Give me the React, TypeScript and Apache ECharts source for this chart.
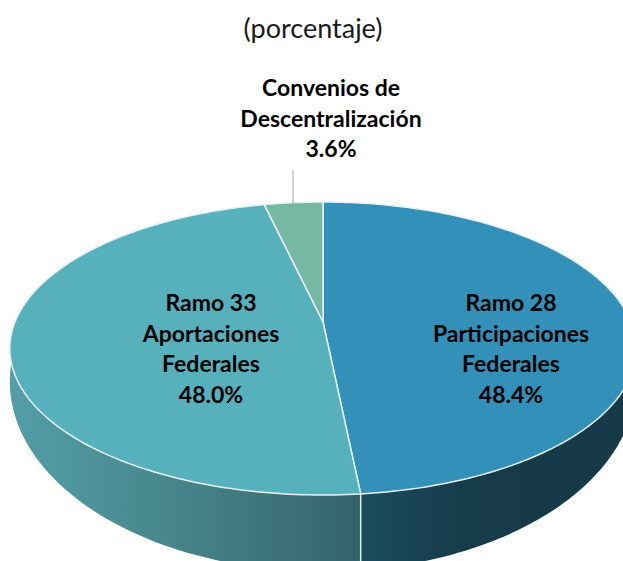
import React, { useEffect, useRef } from "react";
import * as echarts from "echarts";

const sliceNames = ["Ramo 28\nParticipaciones\nFederales", "Ramo 33\nAportaciones\nFederales", "Convenios de\nDescentralización"];
const sliceValues = [48.4, 48.0, 3.6];
const sliceColors = ["#3391b9", "#56b1bd", "#75b9a3"];
const labelAnchors = [[511, 287], [211, 287], [331, 72]];
const titleText = "(porcentaje)";

const CX = 323;
const PERSP = 0.181;
const topRim = { b: 308, a: 141.7, cy: 322 };
const bottomRim = { b: 308, a: 183.8, cy: 347 };

function project(rim: { b: number; a: number; cy: number }, deg: number): [number, number] {
  const t = (deg * Math.PI) / 180;
  const u = Math.sin(t);
  const v = Math.cos(t);
  const w = 1 + PERSP * v;
  return [CX + (rim.b * u) / w, rim.cy - (rim.a * v) / w];
}

function arc(rim: { b: number; a: number; cy: number }, from: number, to: number): [number, number][] {
  const pts: [number, number][] = [];
  const steps = Math.max(2, Math.ceil(Math.abs(to - from)));
  for (let i = 0; i <= steps; i++) pts.push(project(rim, from + ((to - from) * i) / steps));
  return pts;
}

const toPath = (pts: [number, number][]) =>
  "M" + pts.map((p) => p[0].toFixed(2) + " " + p[1].toFixed(2)).join("L") + "Z";

function sliceRange(index: number): [number, number] {
  const total = sliceValues.reduce((s, v) => s + v, 0);
  let acc = 0;
  for (let i = 0; i < index; i++) acc += sliceValues[i];
  return [(acc / total) * 360, ((acc + sliceValues[index]) / total) * 360];
}

const wallFills = [
  new echarts.graphic.LinearGradient(361, 0, 623, 0, [
    { offset: 0, color: "#1b4c5e" },
    { offset: 0.4, color: "#163b4a" },
    { offset: 1, color: "#163a48" },
  ], true),
  new echarts.graphic.LinearGradient(12, 0, 361, 0, [
    { offset: 0, color: "#549ea7" },
    { offset: 0.5, color: "#458389" },
    { offset: 1, color: "#35626a" },
  ], true),
];

export default function App() {
  const ref = useRef<HTMLDivElement>(null);
  useEffect(() => {
    const chart = echarts.init(ref.current!, undefined, { renderer: "svg" });
    const seriesData = sliceValues.map((value, i) => ({ name: sliceNames[i], value }));
    chart.setOption({
      animation: false,
      backgroundColor: "#ffffff",
      title: {
        text: titleText,
        left: 308,
        top: 9,
        textAlign: "center",
        textStyle: { fontFamily: "Lato", fontSize: 27, fontWeight: "normal", color: "#1a1a1a" },
      },
      series: [
        {
          type: "custom",
          coordinateSystem: "none",
          silent: true,
          data: seriesData,
          renderItem: (params: any) => {
            const i = params.dataIndex;
            if (i > 1) return { type: "group", children: [] };
            const range = i === 0 ? [55, sliceRange(0)[1]] : [sliceRange(1)[0], 305];
            const upper = arc(topRim, range[0], range[1]);
            const lower = arc(bottomRim, range[0], range[1]).reverse();
            const seamAngle = sliceRange(0)[1];
            const children: any[] = [
              {
                type: "path",
                shape: { pathData: toPath([...upper, ...lower]) },
                style: { fill: wallFills[i], stroke: null },
              },
            ];
            if (i === 1) {
              const a = project(topRim, seamAngle);
              const b = project(bottomRim, seamAngle);
              children.push({
                type: "line",
                shape: { x1: a[0], y1: a[1], x2: b[0], y2: b[1] },
                style: { stroke: "#dfe9ea", lineWidth: 1.5 },
              });
            }
            return { type: "group", children };
          },
        },
        {
          type: "custom",
          coordinateSystem: "none",
          silent: true,
          data: seriesData,
          renderItem: (params: any) => {
            const i = params.dataIndex;
            const [from, to] = sliceRange(i);
            const pts: [number, number][] = [[CX, topRim.cy], ...arc(topRim, from, to)];
            return {
              type: "group",
              children: [
                {
                  type: "path",
                  shape: { pathData: toPath(pts) },
                  style: { fill: sliceColors[i], stroke: "#e6f1f2", lineWidth: 1.5, lineJoin: "round" },
                },
              ],
            };
          },
        },
        {
          type: "custom",
          coordinateSystem: "none",
          silent: true,
          data: seriesData,
          renderItem: (params: any, api: any) => {
            const i = params.dataIndex;
            const children: any[] = [
              {
                type: "text",
                x: labelAnchors[i][0],
                y: labelAnchors[i][1],
                style: {
                  text: sliceNames[i] + "\n" + Number(api.value(0)).toFixed(1) + "%",
                  fill: "#000000",
                  font: "bold 23px Lato",
                  align: "center",
                  verticalAlign: "top",
                  lineHeight: 30.5,
                },
              },
            ];
            if (i === 2) {
              children.push({
                type: "line",
                shape: { x1: 293, y1: 170, x2: 293, y2: 205 },
                style: { stroke: "#a6a6a6", lineWidth: 1 },
              });
            }
            return { type: "group", children };
          },
        },
      ],
    });
    return () => chart.dispose();
  }, []);
  return <div ref={ref} style={{ position: "absolute", left: 0, top: 0, width: 623, height: 561 }} />;
}
